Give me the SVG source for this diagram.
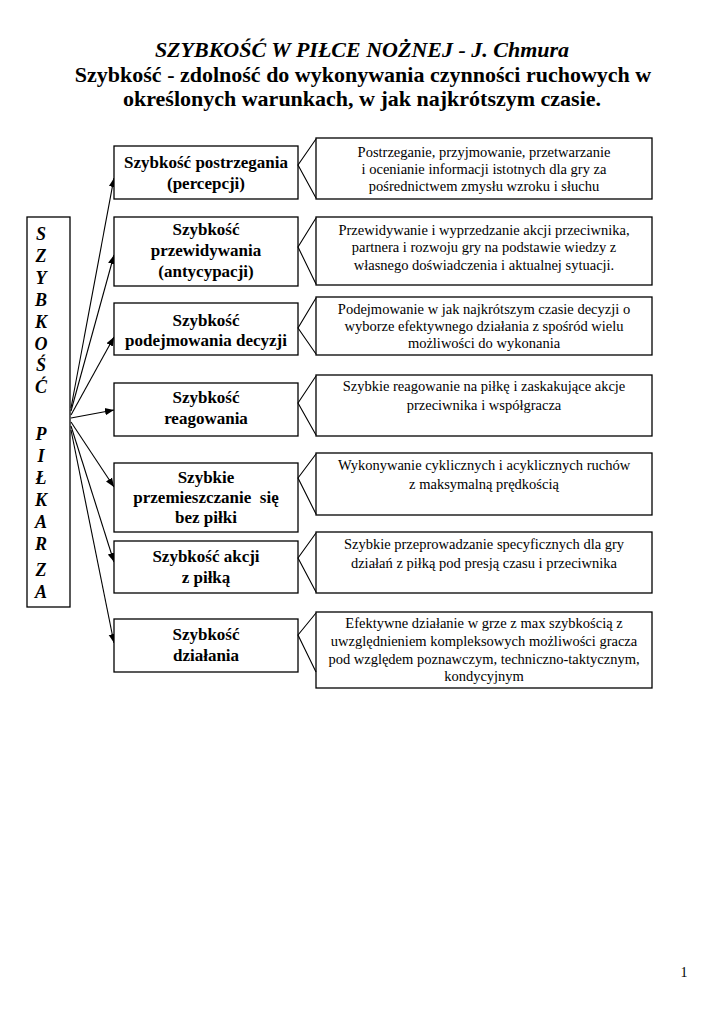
<svg xmlns="http://www.w3.org/2000/svg" width="724" height="1024" viewBox="0 0 724 1024">
<defs>
<style>
.t{font-family:"Liberation Serif","Times New Roman",serif;fill:#000}
.title{font-size:22px;font-weight:bold;text-anchor:middle}
.mid{font-size:17px;font-weight:bold;text-anchor:middle}
.desc{font-size:14.5px;text-anchor:middle}
.vert{font-size:18px;font-weight:bold;font-style:italic;text-anchor:middle}
.box{fill:#fff;stroke:#000;stroke-width:1.3}
.ptr{fill:none;stroke:#000;stroke-width:1.1}
.con{fill:none;stroke:#000;stroke-width:1.1;marker-end:url(#ah)}
</style>
<marker id="ah" viewBox="0 0 10 10" refX="10" refY="5" markerWidth="9" markerHeight="9" markerUnits="userSpaceOnUse" orient="auto">
<path d="M0,1 L10,5 L0,9 Z" fill="#000"/>
</marker>
</defs>
<rect width="724" height="1024" fill="#fff"/>

<g id="title">
<text class="t title" x="362" y="57" font-style="italic">SZYBKOŚĆ W PIŁCE NOŻNEJ - J. Chmura</text>
<text class="t title" x="363" y="82">Szybkość - zdolność do wykonywania czynności ruchowych w</text>
<text class="t title" x="362" y="106">określonych warunkach, w jak najkrótszym czasie.</text>
</g>

<g id="root">
<rect class="box" x="27" y="217" width="43" height="390"/>
<text class="t vert" x="41" y="240">S</text>
<text class="t vert" x="41" y="262">Z</text>
<text class="t vert" x="41" y="284">Y</text>
<text class="t vert" x="41" y="306">B</text>
<text class="t vert" x="41" y="328">K</text>
<text class="t vert" x="41" y="350">O</text>
<text class="t vert" x="41" y="371">Ś</text>
<text class="t vert" x="41" y="393">Ć</text>
<text class="t vert" x="41" y="440">P</text>
<text class="t vert" x="41" y="462">I</text>
<text class="t vert" x="41" y="484">Ł</text>
<text class="t vert" x="41" y="506">K</text>
<text class="t vert" x="41" y="528">A</text>
<text class="t vert" x="41" y="550">R</text>
<text class="t vert" x="41" y="576">Z</text>
<text class="t vert" x="41" y="598">A</text>
</g>

<g id="connectors">
<line class="con" x1="71" y1="408" x2="114" y2="178"/>
<line class="con" x1="71" y1="411" x2="114" y2="255"/>
<line class="con" x1="71" y1="415" x2="114" y2="337"/>
<line class="con" x1="71" y1="418" x2="114" y2="410"/>
<line class="con" x1="71" y1="422" x2="114" y2="487"/>
<line class="con" x1="71" y1="426" x2="114" y2="562"/>
<line class="con" x1="71" y1="430" x2="114" y2="643"/>
</g>

<g id="n1">
<rect class="box" x="114" y="146" width="184" height="53"/>
<text class="t mid" x="206" y="168">Szybkość postrzegania</text>
<text class="t mid" x="206" y="189">(percepcji)</text>
</g>
<g id="d1">
<rect class="box" x="316" y="138" width="336" height="61"/>
<polyline class="ptr" points="316,139 298,165 316,198"/>
<text class="t desc" x="484" y="157">Postrzeganie, przyjmowanie, przetwarzanie</text>
<text class="t desc" x="484" y="174">i ocenianie informacji istotnych dla gry za</text>
<text class="t desc" x="484" y="191">pośrednictwem zmysłu wzroku i słuchu</text>
</g>

<g id="n2">
<rect class="box" x="114" y="217" width="184" height="69"/>
<text class="t mid" x="206" y="235">Szybkość</text>
<text class="t mid" x="206" y="256">przewidywania</text>
<text class="t mid" x="206" y="277">(antycypacji)</text>
</g>
<g id="d2">
<rect class="box" x="316" y="217" width="336" height="68"/>
<polyline class="ptr" points="316,218 298,247 316,284"/>
<text class="t desc" x="484" y="235">Przewidywanie i wyprzedzanie akcji przeciwnika,</text>
<text class="t desc" x="484" y="252">partnera i rozwoju gry na podstawie wiedzy z</text>
<text class="t desc" x="484" y="270">własnego doświadczenia i aktualnej sytuacji.</text>
</g>

<g id="n3">
<rect class="box" x="114" y="303" width="184" height="52"/>
<text class="t mid" x="206" y="326">Szybkość</text>
<text class="t mid" x="206" y="346">podejmowania decyzji</text>
</g>
<g id="d3">
<rect class="box" x="316" y="297" width="336" height="58"/>
<polyline class="ptr" points="316,298 298,328 316,354"/>
<text class="t desc" x="484" y="314">Podejmowanie w jak najkrótszym czasie decyzji o</text>
<text class="t desc" x="484" y="331">wyborze efektywnego działania z spośród wielu</text>
<text class="t desc" x="484" y="348">możliwości do wykonania</text>
</g>

<g id="n4">
<rect class="box" x="114" y="383" width="184" height="53"/>
<text class="t mid" x="206" y="403">Szybkość</text>
<text class="t mid" x="206" y="424">reagowania</text>
</g>
<g id="d4">
<rect class="box" x="316" y="375" width="336" height="61"/>
<polyline class="ptr" points="316,376 298,403 316,435"/>
<text class="t desc" x="484" y="391">Szybkie reagowanie na piłkę i zaskakujące akcje</text>
<text class="t desc" x="484" y="410">przeciwnika i współgracza</text>
</g>

<g id="n5">
<rect class="box" x="114" y="463" width="184" height="69"/>
<text class="t mid" x="206" y="483">Szybkie</text>
<text class="t mid" x="206" y="503">przemieszczanie&#160; się</text>
<text class="t mid" x="206" y="523">bez piłki</text>
</g>
<g id="d5">
<rect class="box" x="316" y="453" width="336" height="62"/>
<polyline class="ptr" points="316,454 298,478 316,514"/>
<text class="t desc" x="484" y="470">Wykonywanie cyklicznych i acyklicznych ruchów</text>
<text class="t desc" x="484" y="489">z maksymalną prędkością</text>
</g>

<g id="n6">
<rect class="box" x="114" y="541" width="184" height="52"/>
<text class="t mid" x="206" y="562">Szybkość akcji</text>
<text class="t mid" x="206" y="583">z piłką</text>
</g>
<g id="d6">
<rect class="box" x="316" y="532" width="336" height="61"/>
<polyline class="ptr" points="316,533 298,558 316,592"/>
<text class="t desc" x="484" y="549">Szybkie przeprowadzanie specyficznych dla gry</text>
<text class="t desc" x="484" y="568">działań z piłką pod presją czasu i przeciwnika</text>
</g>

<g id="n7">
<rect class="box" x="114" y="619" width="184" height="53"/>
<text class="t mid" x="206" y="640">Szybkość</text>
<text class="t mid" x="206" y="661">działania</text>
</g>
<g id="d7">
<rect class="box" x="316" y="612" width="336" height="76"/>
<polyline class="ptr" points="316,613 298,635 316,672"/>
<text class="t desc" x="484" y="628">Efektywne działanie w grze z max szybkością z</text>
<text class="t desc" x="484" y="646">uwzględnieniem kompleksowych możliwości gracza</text>
<text class="t desc" x="484" y="664">pod względem poznawczym, techniczno-taktycznym,</text>
<text class="t desc" x="484" y="681">kondycyjnym</text>
</g>

<text class="t" x="684" y="977" font-size="14" text-anchor="middle">1</text>
</svg>
